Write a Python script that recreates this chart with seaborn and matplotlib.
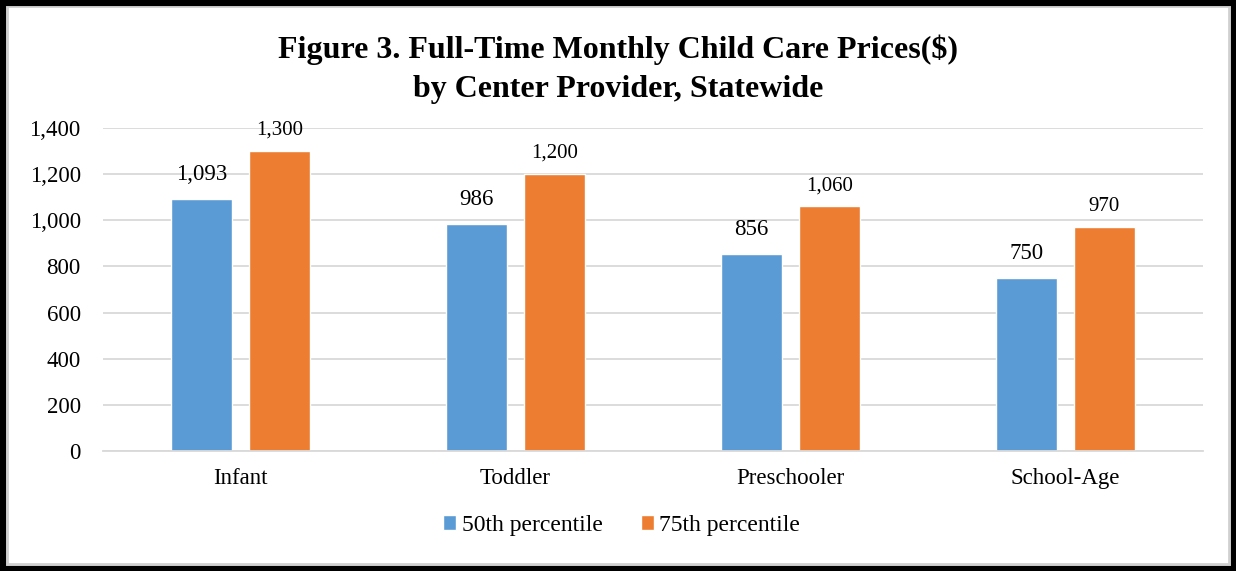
import pandas as pd
import seaborn as sns
import matplotlib.pyplot as plt
from matplotlib.ticker import FuncFormatter
from matplotlib.patches import Rectangle

categories = ['Infant', 'Toddler', 'Preschooler', 'School-Age']
p50 = [1093, 986, 856, 750]
p75 = [1300, 1200, 1060, 970]
series = ['50th percentile', '75th percentile']

df = pd.DataFrame({
    'category': categories * 2,
    'price': p50 + p75,
    'series': [series[0]] * 4 + [series[1]] * 4,
})

sns.set_style('white')
plt.rcParams['font.family'] = ['Liberation Serif', 'DejaVu Serif']
plt.rcParams['text.color'] = 'black'
plt.rcParams['xtick.color'] = 'black'
plt.rcParams['ytick.color'] = 'black'

fig = plt.figure(figsize=(12.36, 5.71), dpi=100)
ax = fig.add_axes([0.0833, 0.2102, 0.89, 0.5656])

sns.barplot(data=df, x='category', y='price', hue='series',
            palette=['#5B9BD5', '#ED7D31'], width=0.567, gap=0.217,
            saturation=1, ax=ax, legend=True)

ax.set_ylim(0, 1400)
ax.set_xlim(-0.5, 3.5)
ax.set_yticks(range(0, 1401, 200))
ax.yaxis.set_major_formatter(FuncFormatter(lambda v, p: f'{v:,.0f}'))
ax.grid(axis='y', color='#D9D9D9', linewidth=1.3)
ax.set_axisbelow(True)
for s in ['top', 'right', 'left']:
    ax.spines[s].set_visible(False)
ax.spines['bottom'].set_color('#D9D9D9')
ax.spines['bottom'].set_linewidth(1.3)
ax.tick_params(axis='y', length=0, pad=16, labelsize=16.5)
ax.tick_params(axis='x', length=0, pad=12, labelsize=16.5)
ax.set_xlabel('')
ax.set_ylabel('')

ax.bar_label(ax.containers[0], fmt='{:,.0f}', padding=10, fontsize=16.5)
ax.bar_label(ax.containers[1], fmt='{:,.0f}', padding=8, fontsize=15)

ax.legend(loc='center', bbox_to_anchor=(0.503, 0.08), bbox_transform=fig.transFigure,
          ncol=2, frameon=False, fontsize=17, handlelength=0.55, handleheight=0.55,
          handletextpad=0.25, columnspacing=1.6)

fig.suptitle('Figure 3. Full-Time Monthly Child Care Prices($)\nby Center Provider, Statewide',
             y=0.94, fontsize=23, fontweight='bold', linespacing=1.45, color='black')

# frame around the chart
fig.patches.append(Rectangle((0.006, 0.012), 0.988, 0.978, transform=fig.transFigure,
                             fill=False, edgecolor='#D0D0D0', linewidth=2))
fig.patches.append(Rectangle((0, 0), 1, 1, transform=fig.transFigure,
                             fill=False, edgecolor='black', linewidth=8))

fig.savefig('out.png', dpi=100)
